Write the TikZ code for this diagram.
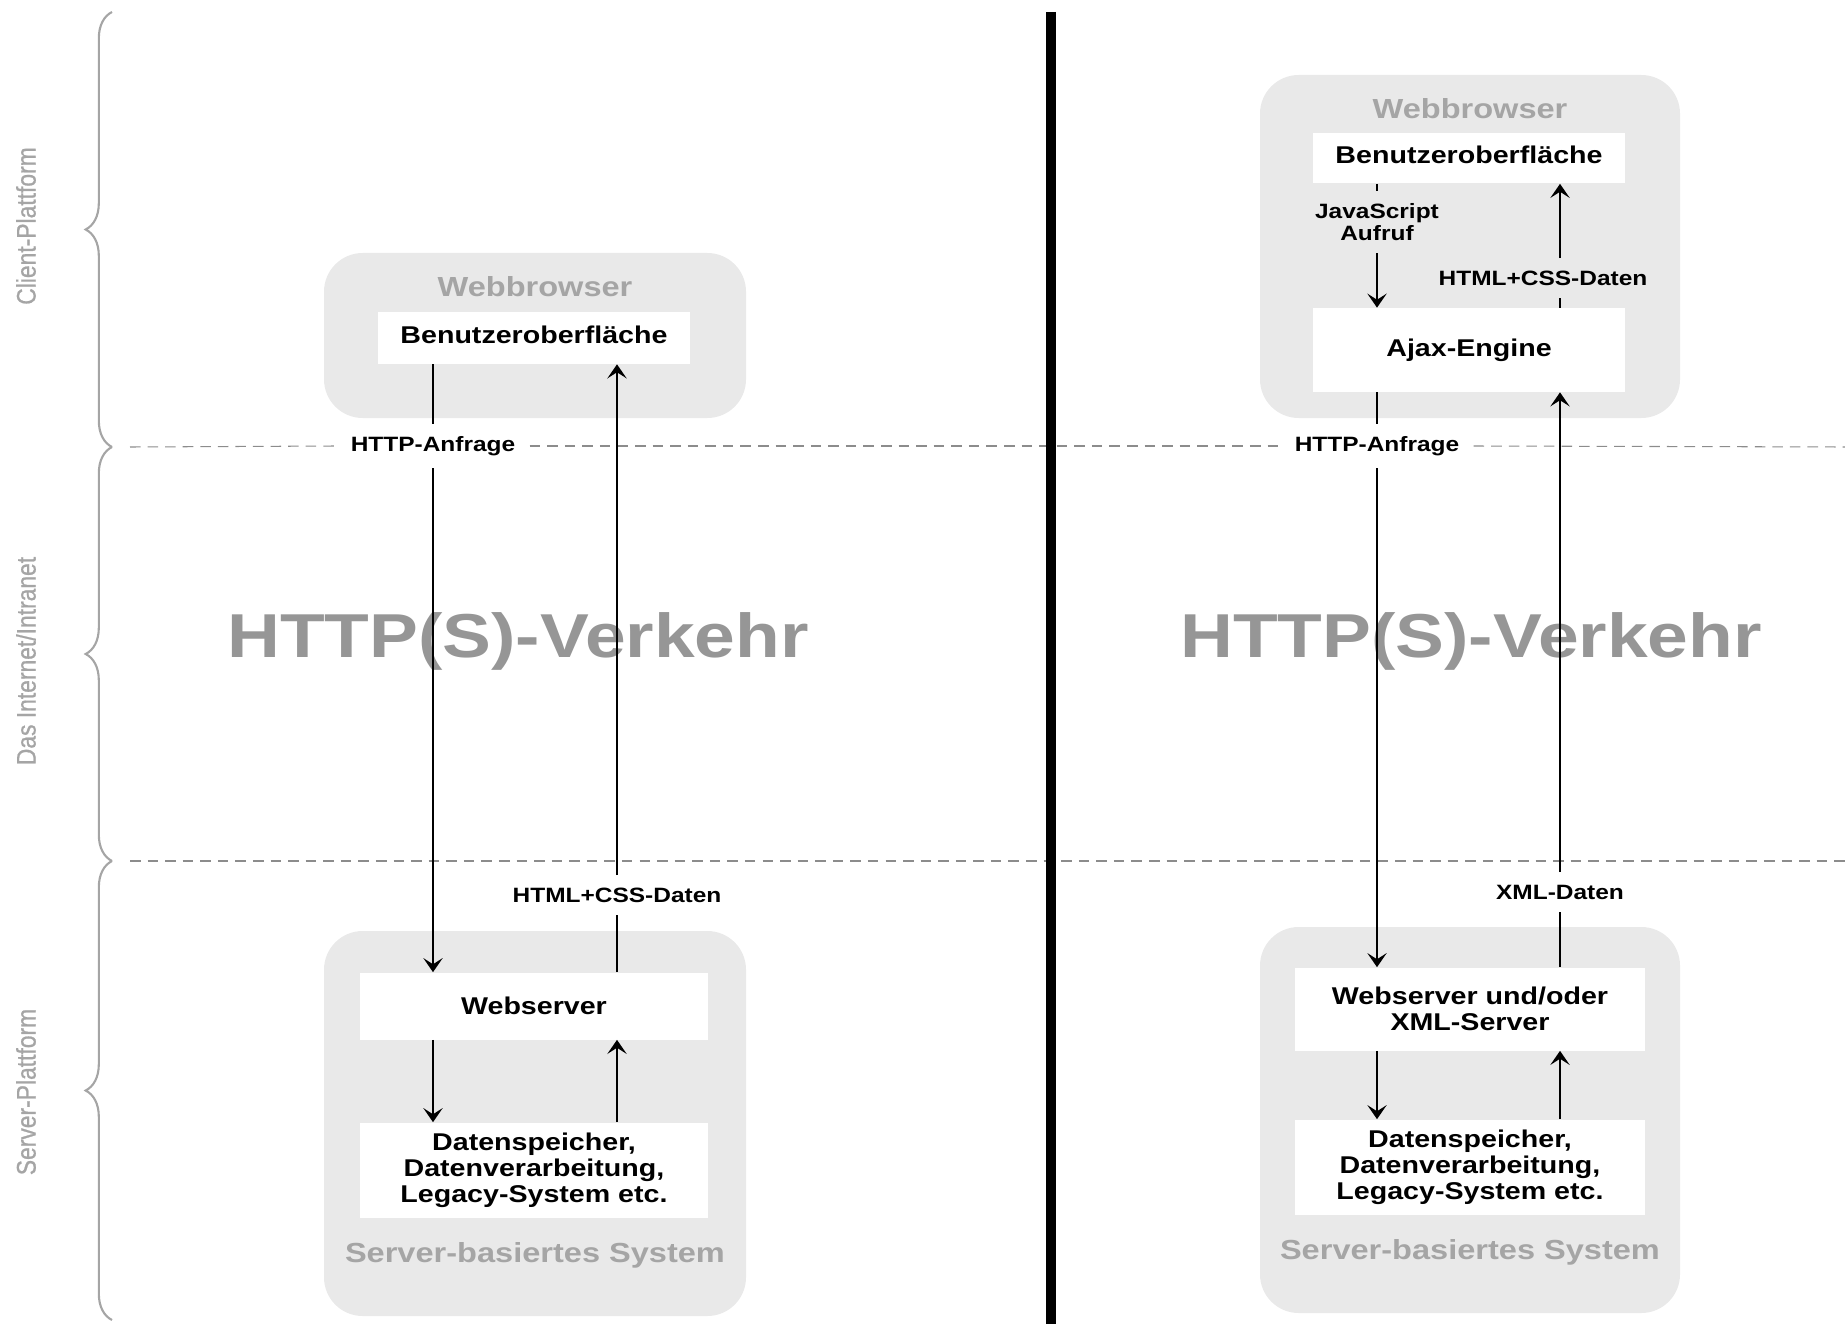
\documentclass[tikz,border=0pt]{standalone}
\usepackage{fontspec}
\setmainfont{Liberation Sans}[FakeStretch=1.18]
\newfontfamily\sidefont{Liberation Sans}[FakeStretch=0.85, FakeBold=0.8]
\usepackage{xcolor}
\usepackage{tikz}
\usetikzlibrary{positioning}
\usetikzlibrary{arrows.meta}
\usetikzlibrary{decorations.pathreplacing}

\definecolor{boxgray}{RGB}{233,233,233}
\definecolor{titlegray}{RGB}{165,165,165}
\definecolor{biggray}{RGB}{150,150,150}
\definecolor{linegray}{RGB}{140,140,140}

\begin{document}
\begin{tikzpicture}[x=0.02cm, y=-0.02cm,
    container/.style={fill=boxgray, rounded corners=22pt},
    whitebox/.style={fill=white, inner sep=0pt, align=center, font=\bfseries\fontsize{13.8}{14.7}\selectfont},
    boxtitle/.style={text=titlegray, font=\bfseries\fontsize{15.7}{18}\selectfont},
    msg/.style={align=center, inner xsep=8pt, inner ysep=7pt, font=\bfseries\fontsize{11.8}{12.4}\selectfont},
    bigtext/.style={text=biggray, font=\bfseries\fontsize{35.3}{40}\selectfont},
    sidelabel/.style={text=titlegray, rotate=90, font=\sidefont\fontsize{15.3}{18}\selectfont},
    arr/.style={-{Stealth[length=8pt, width=11pt, inset=3.5pt]}, line width=1.1pt},
    ln/.style={line width=1.1pt},
    zoneline/.style={linegray, line width=0.6pt, dash pattern=on 6pt off 4pt},
    sidebrace/.style={decorate, decoration={brace, amplitude=15pt}, titlegray, line width=1.2pt}]
    \useasboundingbox (0,0) rectangle (1845,1324);

    % Braces and labels on the left
    \draw[sidebrace] (112,447) -- (112,12);
    \draw[sidebrace] (112,861) -- (112,447);
    \draw[sidebrace] (112,1320) -- (112,861);
    \node[sidelabel] (client) at (26,226) {Client-Plattform};
    \node[sidelabel] (net) at (26,661) {Das Internet/Intranet};
    \node[sidelabel] (server) at (26,1092) {Server-Plattform};

    % Gray containers
    \fill[container] (324,253) rectangle (746,418);
    \fill[container] (324,931) rectangle (746,1316);
    \fill[container] (1260,75) rectangle (1680,418);
    \fill[container] (1260,927) rectangle (1680,1313);

    % Big background text
    \node[bigtext] (trafficL) at (518,641) {HTTP(S)-Verkehr};
    \node[bigtext] (trafficR) at (1471,641) {HTTP(S)-Verkehr};

    % Nodes for the classic model
    \node[boxtitle] (titleBL) at (535,287) {Webbrowser};
    \node[whitebox, text depth=4pt, minimum width=6.24cm, minimum height=1.04cm] (benL) at (534,338) {Benutzeroberfläche};
    \node[whitebox, minimum width=6.96cm, minimum height=1.34cm] (webL) at (534,1006) {Webserver};
    \node[whitebox, minimum width=6.96cm, minimum height=1.9cm] (datL) at (534,1170) {Datenspeicher,\\Datenverarbeitung,\\Legacy-System etc.};
    \node[boxtitle] (titleSL) at (535,1255) {Server-basiertes System};
    \node[msg] (reqL) at (433,446) {HTTP-Anfrage};
    \node[msg] (resL) at (617,895) {HTML+CSS-Daten};

    % Nodes for the Ajax model
    \node[boxtitle] (titleBR) at (1470,109) {Webbrowser};
    \node[whitebox, text depth=4pt, minimum width=6.24cm, minimum height=1.02cm] (benR) at (1469,158) {Benutzeroberfläche};
    \node[whitebox, minimum width=6.24cm, minimum height=1.68cm] (ajaxR) at (1469,350) {Ajax-Engine};
    \node[whitebox, minimum width=7cm, minimum height=1.66cm] (webR) at (1470,1009) {Webserver und/oder\\XML-Server};
    \node[whitebox, minimum width=7cm, minimum height=1.9cm] (datR) at (1470,1167) {Datenspeicher,\\Datenverarbeitung,\\Legacy-System etc.};
    \node[boxtitle] (titleSR) at (1470,1252) {Server-basiertes System};
    \node[msg] (jsR) at (1377,222) {JavaScript\\Aufruf};
    \node[msg] (resR) at (1543,278) {HTML+CSS-Daten};
    \node[msg] (reqR) at (1377,446) {HTTP-Anfrage};
    \node[msg] (xmlR) at (1560,892) {XML-Daten};

    % Zone lines and divider
    \draw[zoneline] (130,447) -- (reqL.west);
    \draw[zoneline] (reqL.east) -- (reqR.west);
    \draw[zoneline] (reqR.east) -- (1845,447);
    \draw[zoneline] (130,861) -- (1845,861);
    \draw[line width=5.7pt] (1051,12) -- (1051,1324);

    % Arrows, classic model
    \draw[ln] (benL.south -| reqL) -- (reqL);
    \draw[arr] (reqL) -- (webL.north -| reqL);
    \draw[ln] (webL.north -| resL) -- (resL);
    \draw[arr] (resL) -- (benL.south -| resL);
    \draw[arr] (webL.south -| reqL) -- (datL.north -| reqL);
    \draw[arr] (datL.north -| resL) -- (webL.south -| resL);

    % Arrows, Ajax model
    \draw[ln] (benR.south -| jsR) -- (jsR);
    \draw[arr] (jsR) -- (ajaxR.north -| jsR);
    \draw[ln] (ajaxR.north -| xmlR) -- (resR.south -| xmlR);
    \draw[arr] (resR.north -| xmlR) -- (benR.south -| xmlR);
    \draw[ln] (ajaxR.south -| reqR) -- (reqR);
    \draw[arr] (reqR) -- (webR.north -| reqR);
    \draw[ln] (webR.north -| xmlR) -- (xmlR);
    \draw[arr] (xmlR) -- (ajaxR.south -| xmlR);
    \draw[arr] (webR.south -| reqR) -- (datR.north -| reqR);
    \draw[arr] (datR.north -| xmlR) -- (webR.south -| xmlR);
\end{tikzpicture}
\end{document}
